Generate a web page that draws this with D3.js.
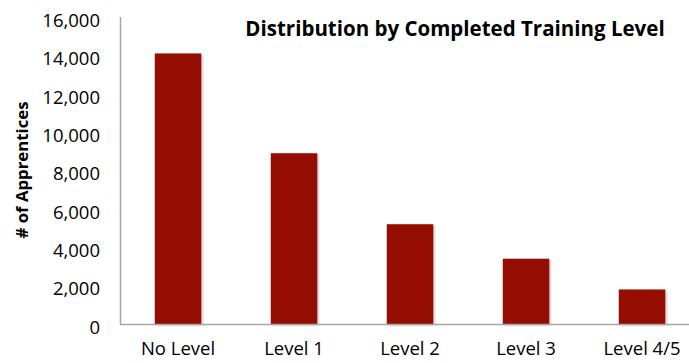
<!DOCTYPE html>
<html>
<head>
<meta charset="utf-8">
<script src="https://cdn.jsdelivr.net/npm/d3@7"></script>
<style>
  body { margin: 0; background: #fff; }
  text { font-family: "Open Sans", sans-serif; fill: #000; }
</style>
</head>
<body>
<div id="chart"></div>
<script>
// Data
const categories = ["No Level", "Level 1", "Level 2", "Level 3", "Level 4/5"];
const apprentices = [14100, 8900, 5200, 3400, 1800];
const yTicks = [0, 2000, 4000, 6000, 8000, 10000, 12000, 14000, 16000];

const width = 689,
  height = 363,
  margin = { left: 120, right: -11, top: 17, bottom: 39 };

var svg = d3.select("#chart").append("svg")
  .attr("width", width)
  .attr("height", height);

// soft shadow under bars, like the original
var defs = svg.append("defs");
var filter = defs.append("filter").attr("id", "shadow")
  .attr("x", "-20%").attr("y", "-10%").attr("width", "140%").attr("height", "120%");
filter.append("feDropShadow")
  .attr("dx", 1).attr("dy", 1).attr("stdDeviation", 1.2)
  .attr("flood-color", "#000").attr("flood-opacity", 0.35);

var x = d3.scaleBand()
  .domain(categories)
  .range([margin.left, width - margin.right])
  .paddingInner(0.6)
  .paddingOuter(0.3);

var y = d3.scaleLinear()
  .domain([0, 16000])
  .range([height - margin.bottom, margin.top]);

// Bars
svg.append("g").selectAll("rect")
  .data(apprentices)
  .enter()
  .append("rect")
    .attr("x", (d, i) => x(categories[i]))
    .attr("y", d => y(d))
    .attr("width", x.bandwidth())
    .attr("height", d => y(0) - y(d))
    .attr("fill", "#941100")
    .attr("filter", "url(#shadow)");

// Axis lines
svg.append("line")
  .attr("x1", margin.left + 0.5).attr("x2", margin.left + 0.5)
  .attr("y1", margin.top).attr("y2", y(0))
  .attr("stroke", "#a6a6a6").attr("stroke-width", 1.5);
svg.append("line")
  .attr("x1", margin.left).attr("x2", width)
  .attr("y1", y(0) + 0.5).attr("y2", y(0) + 0.5)
  .attr("stroke", "#a6a6a6").attr("stroke-width", 1.5);

// Y axis ticks
var yAxis = svg.append("g")
  .attr("transform", "translate(" + (margin.left - 20) + ",0)")
  .call(d3.axisLeft(y).tickValues(yTicks).tickSize(0).tickPadding(0).tickFormat(d3.format(",")));
yAxis.select(".domain").remove();
yAxis.selectAll("text")
  .attr("font-size", 18.5)
  .attr("dy", "0.5em")
  .attr("font-family", "'Open Sans', sans-serif");

// X axis labels
var xAxis = svg.append("g")
  .attr("transform", "translate(0," + (y(0) + 18) + ")")
  .call(d3.axisBottom(x).tickSize(0).tickPadding(0));
xAxis.select(".domain").remove();
xAxis.selectAll("text")
  .attr("font-size", 18.5)
  .attr("font-family", "'Open Sans', sans-serif");

// Y axis title
svg.append("text")
  .attr("transform", "translate(28,170) rotate(-90)")
  .attr("text-anchor", "middle")
  .attr("font-size", 16.8)
  .attr("font-weight", "bold")
  .text("# of Apprentices");

// Chart title
svg.append("text")
  .attr("x", 455)
  .attr("y", 36)
  .attr("text-anchor", "middle")
  .attr("font-size", 20.5)
  .attr("font-weight", "bold")
  .text("Distribution by Completed Training Level");
</script>
</body>
</html>
